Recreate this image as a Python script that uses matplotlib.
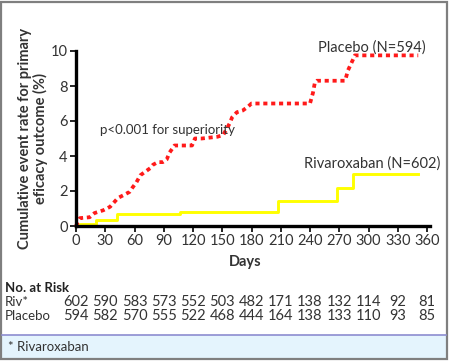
import numpy as np
import matplotlib.pyplot as plt
import matplotlib.transforms as mtransforms
from matplotlib.patches import Rectangle

plt.rcParams['font.family'] = ['Lato', 'DejaVu Sans']

# Kaplan-Meier style curves (days, cumulative event rate %)
placebo_days = [0, 4, 14, 19, 28, 35, 43, 50, 55, 58, 62, 66, 71, 76, 79, 84, 89, 93, 96,
                101, 119, 122, 129, 145, 151, 153, 158, 160, 165, 171, 176, 180, 240, 243,
                245, 247, 276, 279, 284, 286, 351]
placebo_rate = [0, 0.45, 0.5, 0.74, 0.9, 1.1, 1.6, 1.8, 1.95, 2.2, 2.5, 2.9, 3.1, 3.3, 3.5,
                3.65, 3.65, 3.8, 4.2, 4.6, 4.6, 5.0, 5.0, 5.1, 5.2, 5.4, 5.9, 6.2, 6.5, 6.6,
                6.8, 7.0, 7.0, 7.6, 8.2, 8.3, 8.3, 8.9, 9.5, 9.75, 9.75]
riv_days = [0, 4, 20, 42, 107, 207, 268, 284, 351]
riv_rate = [0, 0.1, 0.32, 0.68, 0.8, 1.43, 2.2, 2.97, 2.97]

risk_days = [0, 30, 60, 90, 120, 150, 180, 210, 240, 270, 300, 330, 360]
riv_risk = [602, 590, 583, 573, 552, 503, 482, 171, 138, 132, 114, 92, 81]
placebo_risk = [594, 582, 570, 555, 522, 468, 444, 164, 138, 133, 110, 93, 85]

W, H = 450, 361
fig = plt.figure(figsize=(W / 100, H / 100), dpi=100)

def fx(px):
    return px / W

def fy(py):
    return 1 - py / H

ax = fig.add_axes([fx(76), fy(226), fx(427) - fx(76), fy(51) - fy(226)])
ax.set_xlim(0, 360)
ax.set_ylim(0, 10)
ax.set_facecolor('none')

ax.plot(placebo_days, placebo_rate, color='#ff1a1a', lw=2.7,
        linestyle=(0, (1.1, 1.0)), solid_capstyle='butt', clip_on=False)
ax.plot(riv_days, riv_rate, color='#ffff00', lw=2.1, drawstyle='steps-post', clip_on=False)

for s in ['top', 'right']:
    ax.spines[s].set_visible(False)
for s in ['left', 'bottom']:
    ax.spines[s].set_linewidth(2.4)
    ax.spines[s].set_color('black')
ax.spines['bottom'].set_bounds(0, 363)
ax.set_xticks(risk_days)
ax.set_yticks([0, 2, 4, 6, 8, 10])
ax.tick_params(direction='out', length=4, width=1.2, labelsize=10.5,
               labelcolor='#333333', pad=2)

ax.text(248, 10.2, 'Placebo (N=594)', fontsize=10.5, color='#333333', va='center')
ax.text(234, 3.55, 'Rivaroxaban (N=602)', fontsize=10.5, color='#333333', va='center')
ax.text(25, 5.5, 'p<0.001 for superiority', fontsize=9.5, color='#333333', va='center')

fig.text(fx(33), fy(138), 'Cumulative event rate for primary\neficacy outcome (%)',
         rotation=90, ha='center', va='center', fontsize=10.5, fontweight='bold',
         color='#333333', multialignment='center', linespacing=1.0)
fig.text(fx(245), fy(262), 'Days', ha='center', va='center', fontsize=10.5,
         fontweight='bold', color='#333333')

# number at risk table
tr = mtransforms.blended_transform_factory(ax.transData, fig.transFigure)
fig.text(fx(5), fy(288), 'No. at Risk', ha='left', va='center', fontsize=9.5,
         fontweight='bold', color='#222222')
fig.text(fx(5), fy(302), 'Riv*', ha='left', va='center', fontsize=9.5, color='#333333')
fig.text(fx(5), fy(316), 'Placebo', ha='left', va='center', fontsize=9.5, color='#333333')
for d, r, p in zip(risk_days, riv_risk, placebo_risk):
    ax.text(d, fy(302), str(r), transform=tr, ha='center', va='center',
            fontsize=10.5, color='#333333')
    ax.text(d, fy(316), str(p), transform=tr, ha='center', va='center',
            fontsize=10.5, color='#333333')

# footnote box
fig.patches.append(Rectangle((fx(2), fy(358)), fx(446) - fx(2), fy(335) - fy(358),
                             transform=fig.transFigure, facecolor='#e4f4fd',
                             edgecolor='none', zorder=0))
fig.add_artist(plt.Line2D([fx(2), fx(446)], [fy(335), fy(335)], color='#8c8cd0', lw=1.2))
fig.text(fx(8), fy(347), '* Rivaroxaban', ha='left', va='center', fontsize=9.5,
         color='#333333')

# outer frame
fig.add_artist(Rectangle((fx(1), fy(359)), fx(447) - fx(1), fy(2) - fy(359),
                         transform=fig.transFigure, facecolor='none',
                         edgecolor='#7f7f7f', lw=1.6))

fig.savefig('out.png', dpi=100)
